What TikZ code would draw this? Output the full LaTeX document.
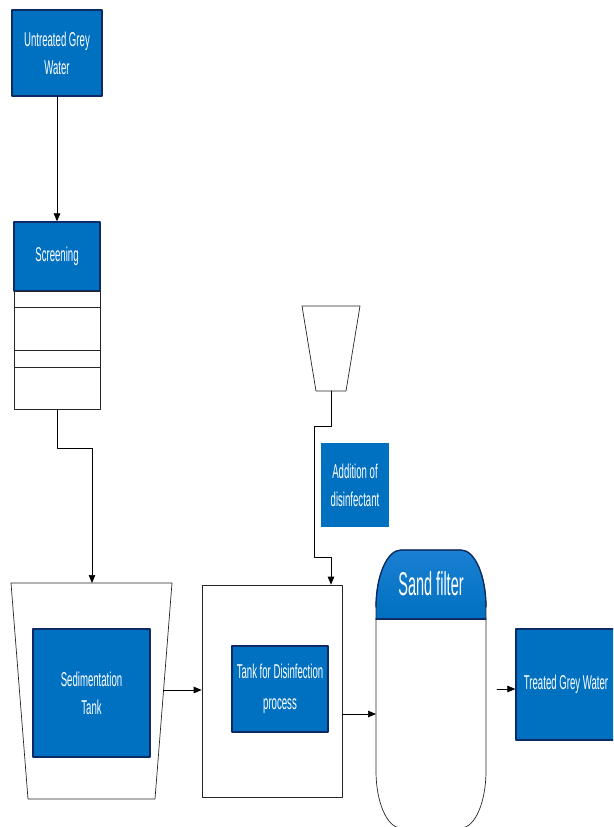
\documentclass[tikz,border=0pt]{standalone}
\usepackage{fontspec}
\setmainfont{Liberation Sans}
\newfontfamily\narrowfont[FakeStretch=0.48]{Liberation Sans}
\newfontfamily\headfont[FakeStretch=0.44]{Liberation Sans}
\usepackage{xcolor}
\usetikzlibrary{arrows.meta}
\usetikzlibrary{calc}
\usetikzlibrary{positioning}

\definecolor{procblue}{HTML}{0070C0}
\definecolor{headblue}{HTML}{1A80D2}
\definecolor{navyedge}{HTML}{0B2A66}

\tikzset{
	procbox/.style={draw=navyedge, line width=1.3pt, fill=procblue, text=white, align=center,
		inner sep=2pt, font=\narrowfont\fontsize{20}{28}\selectfont},
	flow/.style={-{Triangle[length=8pt,width=6.5pt]}, line width=0.7pt},
	vessel/.style={draw=black!85, line width=0.7pt, fill=white},
	screenrow/.style={vessel, minimum width=86pt, inner sep=0pt},
	capend/.style={x radius=25pt, y radius=57pt},
}

\begin{document}
\begin{tikzpicture}[x=1pt, y=-1pt, line cap=round, line join=round]
			
			\useasboundingbox (0,0) rectangle (613,827);
			\clip (0,0) rectangle (613,827);
			
			% Inlet
			\node[procbox, minimum width=90pt, minimum height=86pt] (untreated) at (57,53) {Untreated Grey\\Water};
			
			% Screening unit with its bars
			\node[procbox, minimum width=86pt, minimum height=69pt] (screening) at (57,256.5) {Screening};
			\node[screenrow, minimum height=16pt] (screen1) at (57,299) {};
			\node[screenrow, minimum height=43pt] (screen2) at (57,328.5) {};
			\node[screenrow, minimum height=17pt] (screen3) at (57,358.5) {};
			\node[screenrow, minimum height=42pt] (screen4) at (57,388) {};
			\draw[flow] (untreated) -- (screening);
			
			% Sedimentation tank (trapezoid)
			\draw[vessel] (11,583) -- (172,583) -- (155,799) -- (28,799) -- cycle;
			\coordinate (sedin) at (92,583);
			\coordinate (sedout) at (163.5,690);
			\node[procbox, minimum width=117pt, minimum height=128pt] (sedimentation) at (91.5,693) {Sedimentation\\Tank};
			
			\coordinate (bend1) at (92,448);
			\draw[flow] (screen4.south) |- (bend1) -- (sedin);
			
			% Disinfection tank
			\node[vessel, minimum width=140pt, minimum height=212pt, inner sep=0pt] (dtank) at (272,691) {};
			\node[procbox, minimum width=96pt, minimum height=86pt, font=\narrowfont\fontsize{20}{31}\selectfont] (disinfection) at (280,689) {Tank for Disinfection\\process};
			\draw[flow] (sedout) -- (sedout -| dtank.west);
			
			% Dosing funnel
			\draw[vessel] (302,306) -- (360,306) -- (346,391) -- (316,391) -- cycle;
			\coordinate (funnelout) at (331,391);
			\coordinate (dose1) at (314,426);
			\coordinate (dose2) at (331,557);
			\draw[flow] (funnelout) |- (dose1) |- (dose2) -- (dose2 |- dtank.north);
			\node[procbox, draw=none, minimum width=68pt, minimum height=84pt] (disinfectant) at (355,485) {Addition of\\disinfectant};
			
			% Sand filter (capsule with elliptical ends)
			\begin{scope}
				\clip (376,607) arc[capend, start angle=180, end angle=90]
					-- (461,550) arc[capend, start angle=90, end angle=0]
					-- (486,619) -- (376,619) -- cycle;
				\shade[top color=headblue, bottom color=procblue] (376,550) rectangle (486,619);
			\end{scope}
			\draw[draw=black!85, line width=0.7pt] (376,607) arc[capend, start angle=180, end angle=90]
				-- (461,550) arc[capend, start angle=90, end angle=0]
				-- (486,771) arc[capend, start angle=0, end angle=-90]
				-- (401,828) arc[capend, start angle=270, end angle=180]
				-- cycle;
			\draw[navyedge, line width=1.3pt] (376,607) arc[capend, start angle=180, end angle=90]
				-- (461,550) arc[capend, start angle=90, end angle=0];
			\draw[navyedge, line width=1.3pt] (376,619) -- (486,619);
			\node[text=white, font=\headfont\fontsize{33}{36}\selectfont] (sandfilter) at (431,584) {Sand filter};
			\coordinate (sandin) at (376,714);
			\coordinate (sandout) at (497,689);
			\draw[flow] (sandin -| dtank.east) -- (sandin);
			
			% Outlet
			\node[procbox, minimum width=100pt, minimum height=111pt] (treated) at (566,684.5) {Treated Grey Water};
			\draw[flow] (sandout) -- (sandout -| treated.west);
			
		\end{tikzpicture}
\end{document}
